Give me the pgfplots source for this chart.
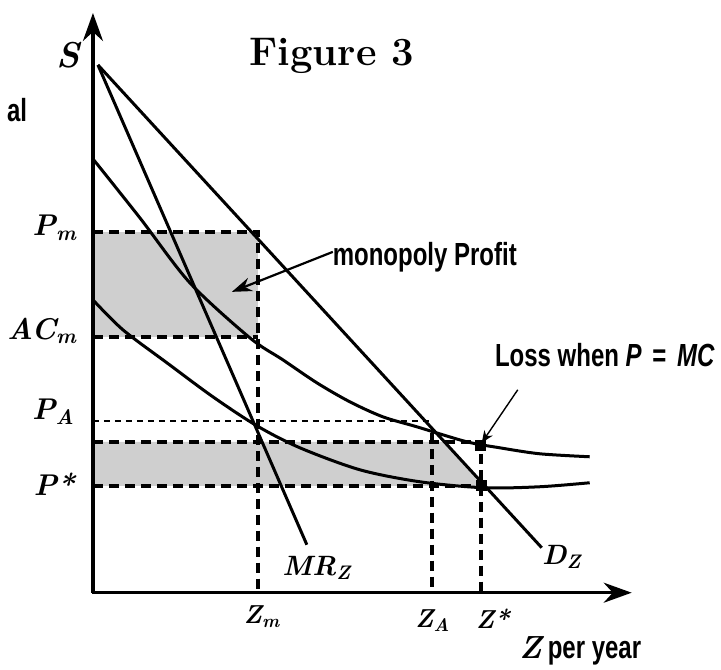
\documentclass[border=0pt]{standalone}
\usepackage{pgfplots}
\pgfplotsset{compat=1.18}
\usepackage{fontspec}
\usetikzlibrary{arrows.meta}
\newfontfamily\condfont[FakeStretch=0.75]{Liberation Sans}
\newcommand{\bi}{\bfseries\itshape}
\tikzset{
  bigarr/.style={-{Stealth[length=14pt,width=10pt]}},
  midarr/.style={-{Stealth[length=10pt,width=7pt]}},
  smallarr/.style={-{Stealth[length=6pt,width=5pt]}},
  dsh/.style={line width=1.9pt, dash pattern=on 5pt off 3pt},
}
\begin{document}
\begin{tikzpicture}
\begin{axis}[name=ax, x=0.5pt,y=0.5pt,
  xmin=0,xmax=721,ymin=0,ymax=670,
  hide axis, clip=false]
\addplot[draw=none, forget plot] coordinates {(0,0)(721,670)};
\addplot[fill=gray!38, draw=none] coordinates {(93,333)(258,333)(258,438)(93,438)};
\addplot[fill=gray!38, draw=none] coordinates {(93,184)(93,228)(444,228)(481,188)(481,184)};
\addplot[dsh] coordinates {(93,438)(258,438)(258,77)};
\addplot[dsh] coordinates {(93,333)(258,333)};
\addplot[line width=1.1pt, dash pattern=on 3pt off 2.5pt] coordinates {(93,249)(433,249)};
\addplot[dsh] coordinates {(93,228)(481,228)(481,77)};
\addplot[dsh] coordinates {(93,184)(481,184)};
\addplot[dsh] coordinates {(432,237)(432,77)};
\addplot[line width=1.7pt, bigarr] coordinates {(93,77)(93,657)};
\addplot[line width=1.7pt, bigarr] coordinates {(92,77)(632,77)};
\addplot[line width=1.5pt] coordinates {(98,605)(542,122)};
\addplot[line width=1.5pt] coordinates {(98,605)(307,125)};
\addplot[line width=1.5pt, smooth] coordinates {(93,511)(140,452)(190,387)(250,332)(283,310)(317,287)(350,268)(383,253)(417,243)(467,228)(500,222)(540,216)(590,213)};
\addplot[line width=1.5pt, smooth] coordinates {(93,370)(123,340)(167,307)(213,273)(257,244)(300,222)(360,200)(420,188)(484,182)(540,183)(590,187)};
\addplot[only marks, mark=square*, mark size=2.5pt] coordinates {(481,224)(482,184)};
\addplot[line width=0.7pt, smallarr] coordinates {(518,280)(482,227)};
\addplot[line width=1.1pt, midarr] coordinates {(333,418)(232,378)};
\end{axis}
\begin{scope}[shift={(ax.south west)}, x=0.5pt, y=0.5pt]
\node at (332,614) {\fontsize{20}{24}\selectfont\bfseries Figure 3};
\node at (68,615) {\fontsize{18}{20}\selectfont\bi S};
\node[anchor=west] at (0,560) {\condfont\bfseries\fontsize{16}{19}\selectfont al};
\node[anchor=east] at (84,442) {\fontsize{15}{18}\selectfont\bi P\textsubscript{m}};
\node[anchor=east] at (84,339) {\fontsize{15}{18}\selectfont\bi AC\textsubscript{m}};
\node[anchor=east] at (82,258) {\fontsize{15}{18}\selectfont\bi P\textsubscript{A}};
\node[anchor=east] at (82,186) {\fontsize{15}{18}\selectfont\bi P*};
\node at (262,53) {\fontsize{13}{16}\selectfont\bi Z\textsubscript{m}};
\node at (433,49) {\fontsize{13}{16}\selectfont\bi Z\textsubscript{A}};
\node at (493,51) {\fontsize{13}{16}\selectfont\bi Z*};
\node at (317,102) {\fontsize{14}{17}\selectfont\bi MR\textsubscript{Z}};
\node at (562,113) {\fontsize{14}{17}\selectfont\bi D\textsubscript{Z}};
\node[anchor=west, inner sep=0pt] at (519,19) {\fontsize{16}{19}\selectfont{\bi Z}\hspace{3pt}\condfont\bfseries per year};
\node at (425,413) {\condfont\bfseries\fontsize{16}{19}\selectfont monopoly Profit};
\node at (605,315) {\condfont\bfseries\fontsize{16}{19}\selectfont Loss when {\itshape P}\hspace{2pt} = \hspace{2pt}{\itshape MC}};
\end{scope}
\end{tikzpicture}
\end{document}
